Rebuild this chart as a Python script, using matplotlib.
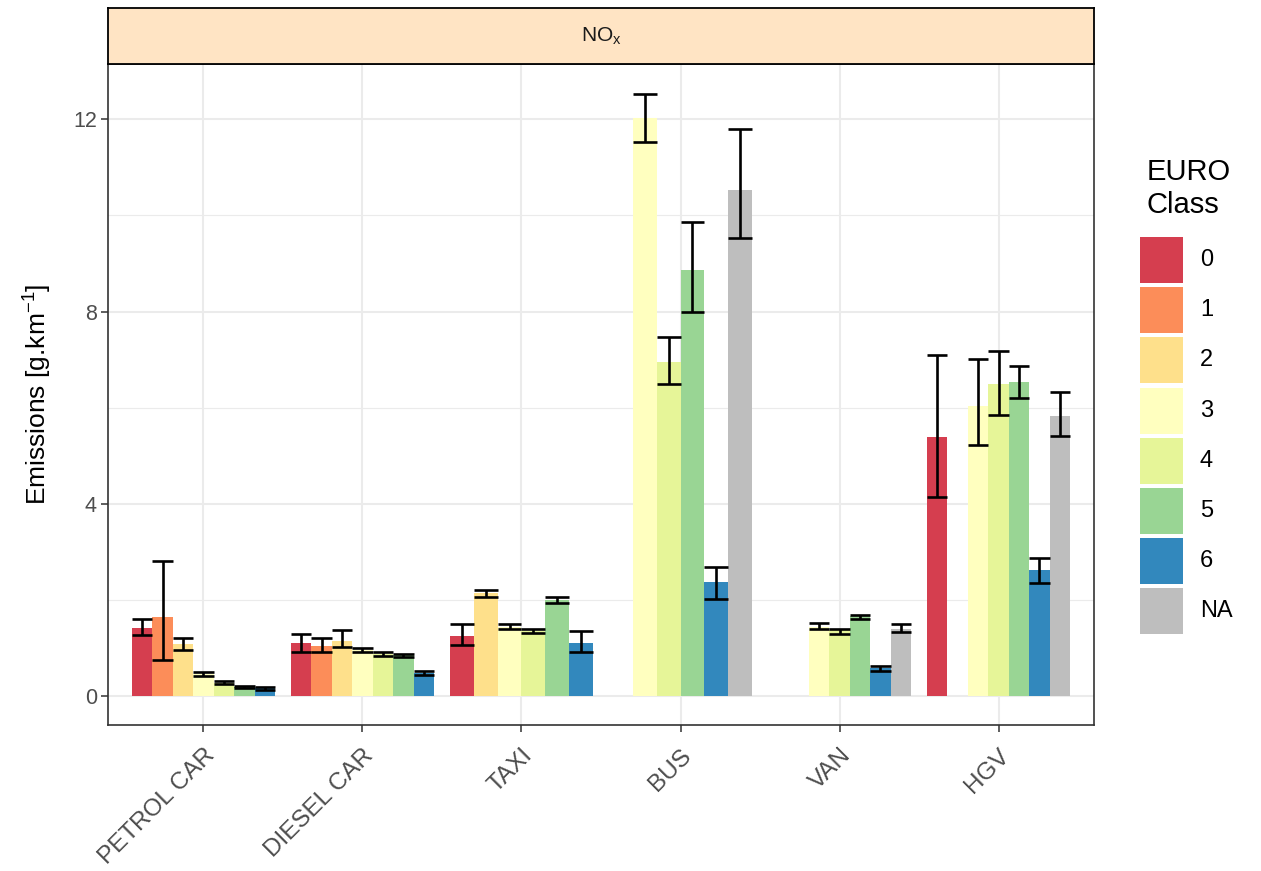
import numpy as np
import matplotlib
matplotlib.use("Agg")
import matplotlib.pyplot as plt
from matplotlib.patches import Rectangle

plt.rcParams['font.family'] = ['Liberation Sans', 'DejaVu Sans']
plt.rcParams['mathtext.fontset'] = 'custom'
plt.rcParams['mathtext.rm'] = 'Liberation Sans'
plt.rcParams['mathtext.it'] = 'Liberation Sans:italic'

# ---------------- data ----------------
vehicle_types = ["PETROL CAR", "DIESEL CAR", "TAXI", "BUS", "VAN", "HGV"]
euro_classes = ["0", "1", "2", "3", "4", "5", "6", "NA"]
euro_colors = ["#D53E4F", "#FC8D59", "#FEE08B", "#FFFFBF", "#E6F598", "#99D594", "#3288BD", "#BEBEBE"]

petrol_classes = ["0", "1", "2", "3", "4", "5", "6"]
petrol_mean = [1.42, 1.65, 1.08, 0.46, 0.28, 0.19, 0.17]
petrol_lo = [1.28, 0.76, 0.96, 0.41, 0.25, 0.16, 0.13]
petrol_hi = [1.61, 2.82, 1.22, 0.50, 0.31, 0.22, 0.20]

diesel_classes = ["0", "1", "2", "3", "4", "5", "6"]
diesel_mean = [1.10, 1.05, 1.15, 0.96, 0.87, 0.86, 0.49]
diesel_lo = [0.91, 0.91, 1.03, 0.91, 0.84, 0.82, 0.45]
diesel_hi = [1.30, 1.22, 1.37, 1.00, 0.91, 0.88, 0.52]

taxi_classes = ["0", "2", "3", "4", "5", "6"]
taxi_mean = [1.26, 2.15, 1.44, 1.35, 2.01, 1.11]
taxi_lo = [1.06, 2.06, 1.40, 1.31, 1.94, 0.91]
taxi_hi = [1.51, 2.21, 1.51, 1.39, 2.06, 1.36]

bus_classes = ["2", "3", "4", "5", "6", "NA"]
bus_mean = [np.nan, 12.02, 6.96, 8.86, 2.38, 10.53]
bus_lo = [np.nan, 11.52, 6.49, 7.99, 2.02, 9.53]
bus_hi = [np.nan, 12.52, 7.48, 9.86, 2.69, 11.79]

van_classes = ["1", "2", "3", "4", "5", "6", "NA"]
van_mean = [np.nan, np.nan, 1.43, 1.37, 1.67, 0.58, 1.39]
van_lo = [np.nan, np.nan, 1.39, 1.29, 1.60, 0.53, 1.34]
van_hi = [np.nan, np.nan, 1.53, 1.39, 1.68, 0.62, 1.50]

hgv_classes = ["0", "1", "3", "4", "5", "6", "NA"]
hgv_mean = [5.39, np.nan, 6.03, 6.50, 6.54, 2.62, 5.83]
hgv_lo = [4.15, np.nan, 5.22, 5.85, 6.21, 2.35, 5.42]
hgv_hi = [7.10, np.nan, 7.02, 7.19, 6.86, 2.88, 6.33]

groups = [
    (petrol_classes, petrol_mean, petrol_lo, petrol_hi),
    (diesel_classes, diesel_mean, diesel_lo, diesel_hi),
    (taxi_classes, taxi_mean, taxi_lo, taxi_hi),
    (bus_classes, bus_mean, bus_lo, bus_hi),
    (van_classes, van_mean, van_lo, van_hi),
    (hgv_classes, hgv_mean, hgv_lo, hgv_hi),
]

y_ticks = [0, 4, 8, 12]
y_minor = [2, 6, 10]

# ---------------- figure ----------------
W, H = 1261, 871
fig = plt.figure(figsize=(W / 100, H / 100), dpi=100)

def fx(px):
    return px / W

def fy(py):
    return 1 - py / H

pl, pr, pt, pb = 108, 1094, 64, 725
ax = fig.add_axes([fx(pl), fy(pb), fx(pr) - fx(pl), fy(pt) - fy(pb)])
ax.set_facecolor("white")

color_map = dict(zip(euro_classes, euro_colors))
dodge = 0.9
for i, (cls, mean, lo, hi) in enumerate(groups):
    n = len(cls)
    w = dodge / n
    x0 = (i + 1) - dodge / 2
    for j, c in enumerate(cls):
        m = mean[j]
        if np.isnan(m):
            continue
        xc = x0 + w * (j + 0.5)
        ax.bar(xc, m, width=w, color=color_map[c], edgecolor="none", zorder=2)
        ax.vlines(xc, lo[j], hi[j], color="black", lw=1.9, zorder=3)
        ax.hlines([lo[j], hi[j]], xc - w / 2, xc + w / 2, color="black", lw=1.9, zorder=3)

ax.set_xlim(0.4, 6.6)
ax.set_ylim(-0.6, 13.15)
ax.set_xticks(range(1, 7))
ax.set_xticklabels(vehicle_types, rotation=45, ha="right", va="top",
                   rotation_mode="anchor", fontsize=17.5, color="#4D4D4D")
ax.set_yticks(y_ticks)
ax.set_yticklabels([str(t) for t in y_ticks], fontsize=15.5, color="#4D4D4D")
ax.set_yticks(y_minor, minor=True)
ax.tick_params(axis="both", which="major", length=5, width=1.1, color="#333333")
ax.tick_params(axis="y", which="major", pad=3)
ax.tick_params(axis="y", which="minor", length=0)
ax.tick_params(axis="x", which="major", pad=9)
ax.grid(True, which="major", color="#EBEBEB", lw=1.5, zorder=0)
ax.grid(True, which="minor", axis="y", color="#EBEBEB", lw=0.8, zorder=0)
ax.set_axisbelow(True)
for s in ax.spines.values():
    s.set_color("#333333")
    s.set_linewidth(1.2)

ax.set_ylabel(r"Emissions [g.km$^{-1}$]", fontsize=19, labelpad=14)

# strip
sax = fig.add_axes([fx(pl), fy(pt), fx(pr) - fx(pl), fy(8) - fy(pt)])
sax.set_facecolor("#FFE4C4")
sax.set_xticks([])
sax.set_yticks([])
for s in sax.spines.values():
    s.set_color("black")
    s.set_linewidth(1.3)
sax.text(0.5, 0.5, r"NO$_\mathrm{x}$", ha="center", va="center", fontsize=15,
         color="#1A1A1A", transform=sax.transAxes)

# legend (pixel coordinates)
lax = fig.add_axes([0, 0, 1, 1], facecolor="none")
lax.set_xlim(0, W)
lax.set_ylim(H, 0)
lax.axis("off")
lax.text(1147, 172, "EURO", fontsize=21, ha="left", va="center")
lax.text(1147, 205, "Class", fontsize=21, ha="left", va="center")
for k, (c, col) in enumerate(zip(euro_classes, euro_colors)):
    y0 = 237 + 50.2 * k
    lax.add_patch(Rectangle((1140, y0), 43, 46, facecolor=col, edgecolor="none"))
    lax.text(1200, y0 + 23, c, fontsize=17, ha="left", va="center")

fig.savefig("out.png", dpi=100)
